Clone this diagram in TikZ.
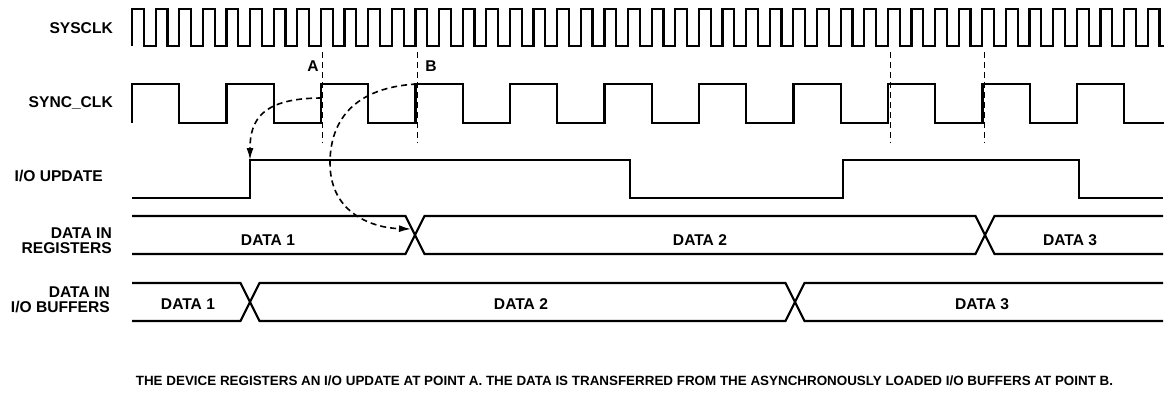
\documentclass[tikz,border=0pt]{standalone}
\usepackage{fontspec}
\setmainfont{Liberation Sans}
\usetikzlibrary{arrows.meta}
\tikzset{
  wave/.style={line width=2.2pt},
  guide/.style={line width=0.9pt, dash pattern=on 6pt off 4pt},
  flow/.style={line width=1.6pt, dash pattern=on 6pt off 4pt, -{Latex[length=12pt,width=7pt]}},
  lbl/.style={font=\bfseries\fontsize{15.6}{15}\selectfont, inner sep=0pt},
  note/.style={font=\bfseries\fontsize{13.4}{14}\selectfont, inner sep=0pt}
}
\begin{document}
\begin{tikzpicture}[x=1pt,y=-1pt]
\useasboundingbox (0,0) rectangle (1167,394);
% signal names
\node[lbl, anchor=east] (sys) at (113,28) {SYSCLK};
\node[lbl, anchor=east] (sync) at (113,103) {SYNC\_CLK};
\node[lbl, anchor=east] (upd) at (103,176) {I/O UPDATE};
\node[lbl, anchor=east, align=right] (reg) at (112,240.5) {DATA IN\\REGISTERS};
\node[lbl, anchor=east, align=right] (buf) at (110,300) {DATA IN\\I/O BUFFERS};
% SYSCLK
\draw[wave] (132,46) \foreach \k in {1,...,43}{ -- ++(0,-37) -- ++(11.81,0) -- ++(0,37) -- ++(11.81,0)}
  -- ++(0,-37) -- ++(11.81,0) -- ++(0,37) -- ++(5,0);
% SYNC_CLK
\draw[wave] (132,123) \foreach \k in {1,...,10}{ -- ++(0,-39) -- ++(47.25,0) -- ++(0,39) -- ++(47.25,0)}
  -- ++(0,-39) -- ++(47.25,0) -- ++(0,39) -- ++(40,0);
% I/O UPDATE
\draw[wave] (132,198) -- (250,198) -- (250,160) -- (630,160) -- (630,198) -- (843,198)
  -- (843,160) -- (1079,160) -- (1079,198) -- (1163,198);
% data in registers
\draw[wave] (132,216) -- (405.5,216) -- (424.5,254) -- (975.5,254) -- (994.5,216) -- (1163,216);
\draw[wave] (132,254) -- (405.5,254) -- (424.5,216) -- (975.5,216) -- (994.5,254) -- (1163,254);
\node[lbl] (reg1) at (268,240) {DATA 1};
\node[lbl] (reg2) at (700,240) {DATA 2};
\node[lbl] (reg3) at (1070,240) {DATA 3};
% data in I/O buffers
\draw[wave] (132,283) -- (240.5,283) -- (259.5,321) -- (785.5,321) -- (804.5,283) -- (1163,283);
\draw[wave] (132,321) -- (240.5,321) -- (259.5,283) -- (785.5,283) -- (804.5,321) -- (1163,321);
\node[lbl] (buf1) at (188,304) {DATA 1};
\node[lbl] (buf2) at (521,304) {DATA 2};
\node[lbl] (buf3) at (982,304) {DATA 3};
% points A and B
\foreach \x/\n in {322/a, 417/b, 890/c, 984/d}
  \draw[guide] (\x,52) coordinate (top\n) -- (\x,143) coordinate (bot\n);
\node[lbl] (ptA) at (313,66) {A};
\node[lbl] (ptB) at (431,66) {B};
\coordinate (edgeA) at (322,98);
\coordinate (edgeB) at (417,84);
\coordinate (updRise) at (250,160);
\coordinate (regCross) at (411,229);
\draw[flow] (edgeA) .. controls (262,98) and (250,120) .. (updRise);
\draw[flow] (edgeB) .. controls (345,88) and (330,130) .. (330,163)
  .. controls (330,215) and (375,228) .. (regCross);
% caption
\node[note] (cap) at (624.5,381) {THE DEVICE REGISTERS AN I/O UPDATE AT POINT A. THE DATA IS TRANSFERRED FROM THE ASYNCHRONOUSLY LOADED I/O BUFFERS AT POINT B.};
\end{tikzpicture}
\end{document}
